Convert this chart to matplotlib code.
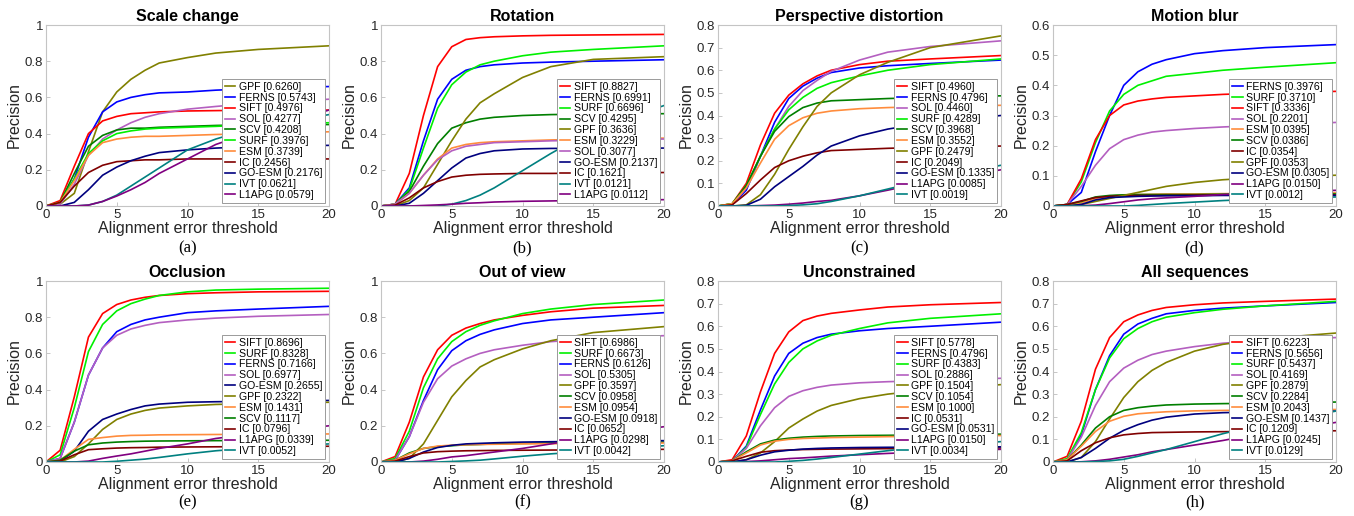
import matplotlib
matplotlib.use("Agg")
import matplotlib.pyplot as plt

thr = [0, 1, 2, 3, 4, 5, 6, 7, 8, 10, 12, 15, 20]

colors = {
    'SIFT': '#ff0000', 'FERNS': '#0000ff', 'SURF': '#00f000', 'SOL': '#b45fc0',
    'SCV': '#007f00', 'GPF': '#808000', 'ESM': '#ff8c3c', 'IC': '#800000',
    'GO-ESM': '#00007f', 'IVT': '#008080', 'L1APG': '#800080',
}

# --- (a) Scale change ---
scale_scores = {'GPF': 0.6260, 'FERNS': 0.5743, 'SIFT': 0.4976, 'SOL': 0.4277, 'SCV': 0.4208,
                'SURF': 0.3976, 'ESM': 0.3739, 'IC': 0.2456, 'GO-ESM': 0.2176, 'IVT': 0.0621,
                'L1APG': 0.0579}
scale_curves = {
    'GPF':    [0, 0.01, 0.07, 0.30, 0.52, 0.63, 0.70, 0.75, 0.79, 0.82, 0.845, 0.865, 0.885],
    'FERNS':  [0, 0.02, 0.15, 0.38, 0.52, 0.575, 0.60, 0.615, 0.625, 0.63, 0.64, 0.65, 0.66],
    'SIFT':   [0, 0.03, 0.22, 0.40, 0.47, 0.495, 0.51, 0.515, 0.52, 0.525, 0.527, 0.53, 0.53],
    'SOL':    [0, 0.01, 0.12, 0.28, 0.37, 0.42, 0.46, 0.49, 0.51, 0.535, 0.55, 0.57, 0.59],
    'SCV':    [0, 0.02, 0.18, 0.33, 0.39, 0.42, 0.43, 0.43, 0.435, 0.44, 0.445, 0.45, 0.45],
    'SURF':   [0, 0.02, 0.15, 0.29, 0.36, 0.40, 0.415, 0.425, 0.43, 0.435, 0.44, 0.45, 0.46],
    'ESM':    [0, 0.02, 0.14, 0.28, 0.35, 0.37, 0.38, 0.385, 0.385, 0.39, 0.395, 0.40, 0.41],
    'IC':     [0, 0.02, 0.11, 0.185, 0.225, 0.245, 0.25, 0.255, 0.255, 0.26, 0.26, 0.26, 0.26],
    'GO-ESM': [0, 0.0, 0.02, 0.09, 0.17, 0.215, 0.25, 0.275, 0.295, 0.31, 0.32, 0.33, 0.335],
    'IVT':    [0, 0.0, 0.0, 0.005, 0.025, 0.06, 0.11, 0.16, 0.21, 0.31, 0.37, 0.44, 0.505],
    'L1APG':  [0, 0.0, 0.0, 0.005, 0.025, 0.055, 0.09, 0.13, 0.18, 0.26, 0.34, 0.42, 0.53],
}

# --- (b) Rotation ---
rot_scores = {'SIFT': 0.8827, 'FERNS': 0.6991, 'SURF': 0.6696, 'SCV': 0.4295, 'GPF': 0.3636,
              'ESM': 0.3229, 'SOL': 0.3077, 'GO-ESM': 0.2137, 'IC': 0.1621, 'IVT': 0.0121,
              'L1APG': 0.0112}
rot_curves = {
    'SIFT':   [0, 0.01, 0.18, 0.50, 0.77, 0.88, 0.92, 0.93, 0.935, 0.94, 0.943, 0.945, 0.948],
    'FERNS':  [0, 0.01, 0.10, 0.36, 0.59, 0.70, 0.75, 0.77, 0.78, 0.79, 0.795, 0.80, 0.808],
    'SURF':   [0, 0.01, 0.09, 0.32, 0.54, 0.67, 0.74, 0.78, 0.80, 0.83, 0.85, 0.865, 0.885],
    'SCV':    [0, 0.01, 0.08, 0.22, 0.345, 0.43, 0.46, 0.48, 0.49, 0.50, 0.505, 0.508, 0.51],
    'GPF':    [0, 0.0, 0.03, 0.10, 0.23, 0.36, 0.48, 0.57, 0.62, 0.71, 0.77, 0.81, 0.825],
    'ESM':    [0, 0.01, 0.07, 0.17, 0.26, 0.32, 0.34, 0.35, 0.355, 0.36, 0.365, 0.37, 0.375],
    'SOL':    [0, 0.01, 0.07, 0.17, 0.255, 0.305, 0.33, 0.34, 0.35, 0.355, 0.36, 0.365, 0.37],
    'GO-ESM': [0, 0.0, 0.015, 0.07, 0.14, 0.21, 0.265, 0.29, 0.305, 0.315, 0.318, 0.32, 0.32],
    'IC':     [0, 0.005, 0.045, 0.10, 0.135, 0.16, 0.17, 0.175, 0.177, 0.18, 0.18, 0.182, 0.185],
    'IVT':    [0, 0.0, 0.0, 0.0, 0.0, 0.01, 0.03, 0.06, 0.10, 0.195, 0.29, 0.42, 0.555],
    'L1APG':  [0, 0.0, 0.0, 0.003, 0.006, 0.01, 0.015, 0.018, 0.022, 0.026, 0.028, 0.032, 0.035],
}

# --- (c) Perspective distortion ---
persp_scores = {'SIFT': 0.4960, 'FERNS': 0.4796, 'SOL': 0.4460, 'SURF': 0.4289, 'SCV': 0.3968,
                'ESM': 0.3552, 'GPF': 0.2479, 'IC': 0.2049, 'GO-ESM': 0.1335, 'L1APG': 0.0085,
                'IVT': 0.0019}
persp_curves = {
    'SIFT':   [0, 0.01, 0.10, 0.27, 0.41, 0.49, 0.54, 0.575, 0.60, 0.625, 0.64, 0.65, 0.665],
    'FERNS':  [0, 0.005, 0.07, 0.22, 0.37, 0.475, 0.53, 0.565, 0.59, 0.61, 0.62, 0.63, 0.645],
    'SOL':    [0, 0.005, 0.08, 0.22, 0.34, 0.44, 0.51, 0.555, 0.595, 0.645, 0.68, 0.705, 0.73],
    'SURF':   [0, 0.01, 0.09, 0.22, 0.34, 0.425, 0.48, 0.52, 0.545, 0.575, 0.60, 0.625, 0.65],
    'SCV':    [0, 0.01, 0.09, 0.22, 0.33, 0.395, 0.435, 0.455, 0.465, 0.47, 0.475, 0.48, 0.487],
    'ESM':    [0, 0.01, 0.08, 0.19, 0.295, 0.355, 0.39, 0.41, 0.42, 0.43, 0.435, 0.44, 0.445],
    'GPF':    [0, 0.0, 0.005, 0.05, 0.14, 0.25, 0.35, 0.44, 0.50, 0.58, 0.635, 0.70, 0.752],
    'IC':     [0, 0.005, 0.055, 0.115, 0.17, 0.20, 0.22, 0.235, 0.245, 0.25, 0.255, 0.26, 0.265],
    'GO-ESM': [0, 0.0, 0.003, 0.03, 0.085, 0.13, 0.175, 0.225, 0.265, 0.31, 0.34, 0.37, 0.40],
    'L1APG':  [0, 0.0, 0.0, 0.002, 0.004, 0.008, 0.013, 0.02, 0.025, 0.045, 0.07, 0.11, 0.16],
    'IVT':    [0, 0.0, 0.0, 0.0, 0.0, 0.002, 0.005, 0.01, 0.02, 0.045, 0.075, 0.12, 0.18],
}

# --- (d) Motion blur ---
blur_scores = {'FERNS': 0.3976, 'SURF': 0.3710, 'SIFT': 0.3336, 'SOL': 0.2201, 'ESM': 0.0395,
               'SCV': 0.0386, 'IC': 0.0354, 'GPF': 0.0353, 'GO-ESM': 0.0305, 'L1APG': 0.0150,
               'IVT': 0.0012}
blur_curves = {
    'FERNS':  [0, 0.005, 0.045, 0.18, 0.30, 0.40, 0.445, 0.47, 0.485, 0.505, 0.515, 0.525, 0.535],
    'SURF':   [0, 0.005, 0.08, 0.21, 0.315, 0.37, 0.40, 0.415, 0.43, 0.44, 0.45, 0.46, 0.475],
    'SIFT':   [0, 0.005, 0.09, 0.22, 0.30, 0.335, 0.348, 0.355, 0.36, 0.365, 0.37, 0.375, 0.38],
    'SOL':    [0, 0.005, 0.065, 0.135, 0.19, 0.22, 0.235, 0.245, 0.25, 0.257, 0.262, 0.268, 0.277],
    'ESM':    [0, 0.003, 0.01, 0.025, 0.033, 0.037, 0.038, 0.039, 0.04, 0.04, 0.041, 0.042, 0.044],
    'SCV':    [0, 0.005, 0.015, 0.03, 0.035, 0.037, 0.038, 0.038, 0.038, 0.038, 0.039, 0.04, 0.04],
    'IC':     [0, 0.005, 0.017, 0.028, 0.032, 0.034, 0.035, 0.035, 0.035, 0.036, 0.036, 0.036, 0.037],
    'GPF':    [0, 0.0, 0.005, 0.015, 0.025, 0.035, 0.045, 0.055, 0.065, 0.078, 0.087, 0.095, 0.102],
    'GO-ESM': [0, 0.0, 0.005, 0.02, 0.028, 0.03, 0.032, 0.033, 0.034, 0.034, 0.035, 0.035, 0.035],
    'L1APG':  [0, 0.0, 0.001, 0.003, 0.008, 0.014, 0.02, 0.024, 0.027, 0.032, 0.038, 0.043, 0.052],
    'IVT':    [0, 0.0, 0.0, 0.0, 0.0, 0.0, 0.002, 0.005, 0.008, 0.013, 0.018, 0.024, 0.03],
}

# --- (e) Occlusion ---
occ_scores = {'SIFT': 0.8696, 'SURF': 0.8328, 'FERNS': 0.7166, 'SOL': 0.6977, 'GO-ESM': 0.2655,
              'GPF': 0.2322, 'ESM': 0.1431, 'SCV': 0.1117, 'IC': 0.0796, 'L1APG': 0.0339,
              'IVT': 0.0052}
occ_curves = {
    'SIFT':   [0, 0.065, 0.36, 0.69, 0.82, 0.87, 0.895, 0.91, 0.92, 0.93, 0.935, 0.94, 0.943],
    'SURF':   [0, 0.04, 0.30, 0.61, 0.76, 0.835, 0.875, 0.90, 0.92, 0.94, 0.95, 0.955, 0.96],
    'FERNS':  [0, 0.02, 0.22, 0.48, 0.63, 0.72, 0.76, 0.785, 0.80, 0.825, 0.835, 0.845, 0.86],
    'SOL':    [0, 0.02, 0.22, 0.48, 0.63, 0.70, 0.735, 0.755, 0.77, 0.785, 0.795, 0.805, 0.815],
    'GO-ESM': [0, 0.005, 0.06, 0.17, 0.235, 0.265, 0.29, 0.31, 0.32, 0.33, 0.333, 0.336, 0.34],
    'GPF':    [0, 0.0, 0.03, 0.10, 0.18, 0.235, 0.265, 0.285, 0.298, 0.31, 0.318, 0.323, 0.33],
    'ESM':    [0, 0.01, 0.07, 0.125, 0.135, 0.143, 0.147, 0.148, 0.15, 0.151, 0.152, 0.153, 0.155],
    'SCV':    [0, 0.01, 0.06, 0.095, 0.105, 0.11, 0.113, 0.115, 0.116, 0.117, 0.118, 0.119, 0.12],
    'IC':     [0, 0.005, 0.04, 0.068, 0.073, 0.077, 0.079, 0.08, 0.082, 0.083, 0.084, 0.085, 0.087],
    'L1APG':  [0, 0.0, 0.0, 0.005, 0.02, 0.033, 0.045, 0.06, 0.075, 0.10, 0.13, 0.16, 0.20],
    'IVT':    [0, 0.0, 0.0, 0.0, 0.0, 0.004, 0.01, 0.016, 0.025, 0.045, 0.062, 0.08, 0.10],
}

# --- (f) Out of view ---
oov_scores = {'SIFT': 0.6986, 'SURF': 0.6673, 'FERNS': 0.6126, 'SOL': 0.5305, 'GPF': 0.3597,
              'SCV': 0.0958, 'ESM': 0.0954, 'GO-ESM': 0.0918, 'IC': 0.0652, 'L1APG': 0.0298,
              'IVT': 0.0042}
oov_curves = {
    'SIFT':   [0, 0.03, 0.22, 0.47, 0.62, 0.70, 0.74, 0.765, 0.785, 0.81, 0.83, 0.85, 0.865],
    'SURF':   [0, 0.02, 0.17, 0.41, 0.57, 0.665, 0.72, 0.755, 0.78, 0.82, 0.845, 0.87, 0.895],
    'FERNS':  [0, 0.01, 0.14, 0.34, 0.51, 0.615, 0.67, 0.705, 0.73, 0.765, 0.785, 0.80, 0.825],
    'SOL':    [0, 0.01, 0.14, 0.33, 0.46, 0.53, 0.57, 0.60, 0.62, 0.645, 0.665, 0.68, 0.698],
    'GPF':    [0, 0.0, 0.02, 0.10, 0.23, 0.36, 0.45, 0.525, 0.565, 0.625, 0.67, 0.715, 0.748],
    'SCV':    [0, 0.01, 0.05, 0.075, 0.085, 0.09, 0.095, 0.097, 0.10, 0.103, 0.105, 0.108, 0.11],
    'ESM':    [0, 0.01, 0.045, 0.075, 0.088, 0.093, 0.095, 0.097, 0.098, 0.10, 0.101, 0.102, 0.105],
    'GO-ESM': [0, 0.0, 0.02, 0.055, 0.08, 0.092, 0.10, 0.103, 0.106, 0.11, 0.112, 0.115, 0.118],
    'IC':     [0, 0.005, 0.03, 0.05, 0.057, 0.06, 0.062, 0.063, 0.064, 0.065, 0.066, 0.067, 0.07],
    'L1APG':  [0, 0.0, 0.0, 0.005, 0.015, 0.028, 0.035, 0.045, 0.055, 0.075, 0.10, 0.14, 0.195],
    'IVT':    [0, 0.0, 0.0, 0.0, 0.0, 0.003, 0.006, 0.01, 0.017, 0.032, 0.045, 0.06, 0.09],
}

# --- (g) Unconstrained ---
unc_scores = {'SIFT': 0.5778, 'FERNS': 0.4796, 'SURF': 0.4383, 'SOL': 0.2886, 'GPF': 0.1504,
              'SCV': 0.1054, 'ESM': 0.1000, 'IC': 0.0531, 'GO-ESM': 0.0531, 'L1APG': 0.0150,
              'IVT': 0.0034}
unc_curves = {
    'SIFT':   [0, 0.01, 0.115, 0.31, 0.48, 0.575, 0.625, 0.645, 0.657, 0.672, 0.685, 0.695, 0.705],
    'FERNS':  [0, 0.005, 0.07, 0.23, 0.38, 0.48, 0.525, 0.55, 0.565, 0.58, 0.59, 0.60, 0.618],
    'SURF':   [0, 0.005, 0.065, 0.21, 0.345, 0.44, 0.50, 0.535, 0.56, 0.59, 0.615, 0.635, 0.655],
    'SOL':    [0, 0.005, 0.06, 0.16, 0.24, 0.29, 0.315, 0.33, 0.34, 0.35, 0.355, 0.36, 0.37],
    'GPF':    [0, 0.0, 0.01, 0.04, 0.09, 0.15, 0.19, 0.225, 0.25, 0.28, 0.30, 0.32, 0.342],
    'SCV':    [0, 0.005, 0.045, 0.08, 0.097, 0.105, 0.11, 0.113, 0.115, 0.117, 0.118, 0.12, 0.123],
    'ESM':    [0, 0.005, 0.04, 0.075, 0.092, 0.10, 0.104, 0.106, 0.108, 0.11, 0.112, 0.114, 0.117],
    'IC':     [0, 0.005, 0.025, 0.043, 0.05, 0.053, 0.055, 0.056, 0.057, 0.058, 0.059, 0.06, 0.062],
    'GO-ESM': [0, 0.0, 0.01, 0.03, 0.045, 0.052, 0.057, 0.06, 0.062, 0.064, 0.065, 0.066, 0.067],
    'L1APG':  [0, 0.0, 0.002, 0.005, 0.01, 0.015, 0.018, 0.022, 0.026, 0.032, 0.038, 0.045, 0.056],
    'IVT':    [0, 0.0, 0.0, 0.0, 0.0, 0.003, 0.007, 0.013, 0.02, 0.035, 0.05, 0.07, 0.09],
}

# --- (h) All sequences ---
all_scores = {'SIFT': 0.6223, 'FERNS': 0.5656, 'SURF': 0.5437, 'SOL': 0.4169, 'GPF': 0.2879,
              'SCV': 0.2284, 'ESM': 0.2043, 'GO-ESM': 0.1437, 'IC': 0.1209, 'L1APG': 0.0245,
              'IVT': 0.0129}
all_curves = {
    'SIFT':   [0, 0.025, 0.18, 0.41, 0.55, 0.62, 0.65, 0.67, 0.683, 0.695, 0.703, 0.71, 0.72],
    'FERNS':  [0, 0.01, 0.12, 0.32, 0.47, 0.565, 0.61, 0.635, 0.655, 0.67, 0.68, 0.69, 0.705],
    'SURF':   [0, 0.015, 0.13, 0.32, 0.46, 0.545, 0.59, 0.62, 0.64, 0.66, 0.675, 0.69, 0.71],
    'SOL':    [0, 0.01, 0.11, 0.25, 0.355, 0.415, 0.45, 0.475, 0.49, 0.51, 0.525, 0.538, 0.55],
    'GPF':    [0, 0.0, 0.02, 0.09, 0.19, 0.285, 0.355, 0.405, 0.44, 0.49, 0.52, 0.545, 0.57],
    'SCV':    [0, 0.01, 0.075, 0.15, 0.20, 0.228, 0.24, 0.247, 0.252, 0.256, 0.258, 0.26, 0.265],
    'ESM':    [0, 0.01, 0.07, 0.135, 0.18, 0.202, 0.213, 0.218, 0.222, 0.226, 0.228, 0.23, 0.232],
    'GO-ESM': [0, 0.0, 0.02, 0.06, 0.105, 0.14, 0.165, 0.185, 0.198, 0.212, 0.218, 0.222, 0.225],
    'IC':     [0, 0.005, 0.05, 0.085, 0.107, 0.12, 0.126, 0.13, 0.131, 0.133, 0.134, 0.136, 0.138],
    'L1APG':  [0, 0.0, 0.001, 0.005, 0.012, 0.022, 0.032, 0.045, 0.055, 0.075, 0.095, 0.13, 0.175],
    'IVT':    [0, 0.0, 0.0, 0.002, 0.005, 0.012, 0.025, 0.04, 0.055, 0.09, 0.125, 0.17, 0.225],
}

panels = [
    ('Scale change', '(a)', scale_curves, scale_scores, 1.0, [0, 0.2, 0.4, 0.6, 0.8, 1]),
    ('Rotation', '(b)', rot_curves, rot_scores, 1.0, [0, 0.2, 0.4, 0.6, 0.8, 1]),
    ('Perspective distortion', '(c)', persp_curves, persp_scores, 0.8,
     [0, 0.1, 0.2, 0.3, 0.4, 0.5, 0.6, 0.7, 0.8]),
    ('Motion blur', '(d)', blur_curves, blur_scores, 0.6, [0, 0.1, 0.2, 0.3, 0.4, 0.5, 0.6]),
    ('Occlusion', '(e)', occ_curves, occ_scores, 1.0, [0, 0.2, 0.4, 0.6, 0.8, 1]),
    ('Out of view', '(f)', oov_curves, oov_scores, 1.0, [0, 0.2, 0.4, 0.6, 0.8, 1]),
    ('Unconstrained', '(g)', unc_curves, unc_scores, 0.8,
     [0, 0.1, 0.2, 0.3, 0.4, 0.5, 0.6, 0.7, 0.8]),
    ('All sequences', '(h)', all_curves, all_scores, 0.8,
     [0, 0.1, 0.2, 0.3, 0.4, 0.5, 0.6, 0.7, 0.8]),
]

plt.rcParams['font.family'] = ['Liberation Sans', 'DejaVu Sans']

fig = plt.figure(figsize=(13.54, 5.16), dpi=100)

lefts = [46, 381, 718, 1053]
W, H = 1354.0, 516.0
aw, ah = 283, 181
row_bottoms = [206, 462]
sub_y = [248, 502]

for k, (title, tag, curves, scores, ymax, yticks) in enumerate(panels):
    r, c = divmod(k, 4)
    ax = fig.add_axes([lefts[c] / W, 1 - row_bottoms[r] / H, aw / W, ah / H])
    for name, vals in curves.items():
        ax.plot(thr, vals, color=colors[name], lw=1.2,
                label=f'{name} [{scores[name]:.4f}]')
    ax.set_xlim(0, 20)
    ax.set_ylim(0, ymax)
    ax.set_xticks([0, 5, 10, 15, 20])
    ax.set_yticks(yticks)
    ax.set_yticklabels([f'{v:g}' for v in yticks])
    ax.tick_params(direction='in', length=3, width=0.6, labelsize=9.5,
                   colors='#bdbdbd', labelcolor='#262626', pad=2)
    for s in ax.spines.values():
        s.set_color('#c4c4c4')
        s.set_linewidth(0.8)
    ax.set_title(title, fontsize=11.5, fontweight='bold', pad=3)
    ax.set_xlabel('Alignment error threshold', fontsize=11.5, color='#262626', labelpad=0)
    ax.set_ylabel('Precision', fontsize=11.5, color='#262626', labelpad=2)
    leg = ax.legend(loc='lower right', bbox_to_anchor=(0.987, 0.015), borderaxespad=0,
                    fontsize=7.6, handlelength=1.0, handletextpad=0.3,
                    labelspacing=0.08, borderpad=0.3, fancybox=False, framealpha=1)
    leg.get_frame().set_edgecolor('#9a9a9a')
    leg.get_frame().set_linewidth(0.7)
    fig.text((lefts[c] + aw / 2) / W, 1 - sub_y[r] / H, tag, ha='center', va='center',
             fontsize=12, family=['Liberation Serif', 'DejaVu Serif'])

fig.savefig('out.png', dpi=100)
